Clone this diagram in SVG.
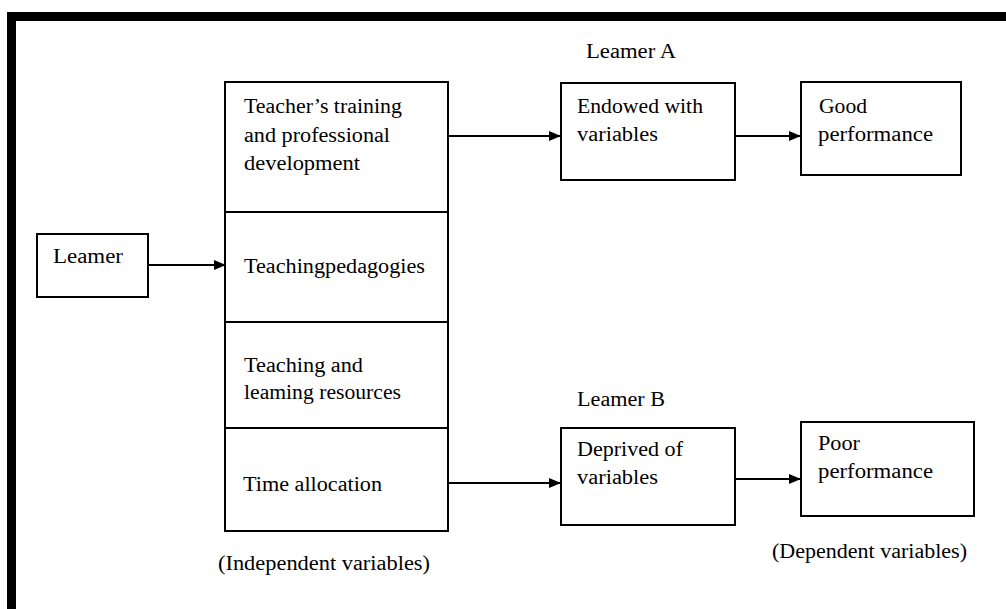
<svg xmlns="http://www.w3.org/2000/svg" width="1006" height="609" viewBox="0 0 1006 609">
<style>
text{font-family:"Liberation Serif","Times New Roman",serif;font-size:20px;fill:#000}
.box{fill:#fff;stroke:#000;stroke-width:2}
.ln{stroke:#000;stroke-width:2;fill:none}
</style>
<defs>
<marker id="ah" markerWidth="12" markerHeight="10" refX="11" refY="5" orient="auto" markerUnits="userSpaceOnUse">
<path d="M0,0 L12,5 L0,10 Z" fill="#000"/>
</marker>
</defs>
<rect x="0" y="0" width="1006" height="609" fill="#fff"/>
<g id="frame">
<rect x="7" y="12" width="999" height="9" fill="#000"/>
<rect x="7" y="12" width="9" height="597" fill="#000"/>
</g>
<g id="learner">
<rect class="box" x="37" y="234" width="111" height="63"/>
<text x="53" y="263" textLength="70" lengthAdjust="spacingAndGlyphs">Leamer</text>
</g>
<g id="independent">
<rect class="box" x="225" y="82" width="223" height="449"/>
<line class="ln" x1="225" y1="212" x2="448" y2="212"/>
<line class="ln" x1="225" y1="322" x2="448" y2="322"/>
<line class="ln" x1="225" y1="428" x2="448" y2="428"/>
<text x="244" y="113" textLength="158" lengthAdjust="spacingAndGlyphs">Teacher’s training</text>
<text x="244" y="142" textLength="146" lengthAdjust="spacingAndGlyphs">and professional</text>
<text x="244" y="170" textLength="116" lengthAdjust="spacingAndGlyphs">development</text>
<text x="244" y="273" textLength="181" lengthAdjust="spacingAndGlyphs">Teachingpedagogies</text>
<text x="244" y="372" textLength="119" lengthAdjust="spacingAndGlyphs">Teaching and</text>
<text x="244" y="399" textLength="157" lengthAdjust="spacingAndGlyphs">leaming resources</text>
<text x="243" y="491" textLength="139" lengthAdjust="spacingAndGlyphs">Time allocation</text>
<text x="218" y="570" textLength="212" lengthAdjust="spacingAndGlyphs">(Independent variables)</text>
</g>
<g id="learnerA">
<text x="586" y="58" textLength="90" lengthAdjust="spacingAndGlyphs">Leamer A</text>
</g>
<g id="endowed">
<rect class="box" x="561" y="83" width="174" height="97"/>
<text x="577" y="113" textLength="126" lengthAdjust="spacingAndGlyphs">Endowed with</text>
<text x="577" y="141" textLength="81" lengthAdjust="spacingAndGlyphs">variables</text>
</g>
<g id="good">
<rect class="box" x="801" y="82" width="160" height="93"/>
<text x="819" y="113" textLength="48" lengthAdjust="spacingAndGlyphs">Good</text>
<text x="818" y="141" textLength="115" lengthAdjust="spacingAndGlyphs">performance</text>
</g>
<g id="learnerB">
<text x="577" y="406" textLength="88" lengthAdjust="spacingAndGlyphs">Leamer B</text>
</g>
<g id="deprived">
<rect class="box" x="561" y="428" width="174" height="97"/>
<text x="577" y="456" textLength="106" lengthAdjust="spacingAndGlyphs">Deprived of</text>
<text x="577" y="484" textLength="81" lengthAdjust="spacingAndGlyphs">variables</text>
</g>
<g id="poor">
<rect class="box" x="801" y="422" width="173" height="94"/>
<text x="818" y="450" textLength="42" lengthAdjust="spacingAndGlyphs">Poor</text>
<text x="818" y="478" textLength="115" lengthAdjust="spacingAndGlyphs">performance</text>
<text x="772" y="558" textLength="195" lengthAdjust="spacingAndGlyphs">(Dependent variables)</text>
</g>
<g id="connectors">
<line class="ln" x1="148" y1="265" x2="225" y2="265" marker-end="url(#ah)"/>
<line class="ln" x1="448" y1="136" x2="560" y2="136" marker-end="url(#ah)"/>
<line class="ln" x1="735" y1="136" x2="800" y2="136" marker-end="url(#ah)"/>
<line class="ln" x1="448" y1="483" x2="560" y2="483" marker-end="url(#ah)" stroke-width="1.5"/>
<line class="ln" x1="735" y1="479" x2="800" y2="479" marker-end="url(#ah)" stroke-width="1.5"/>
</g>
</svg>
